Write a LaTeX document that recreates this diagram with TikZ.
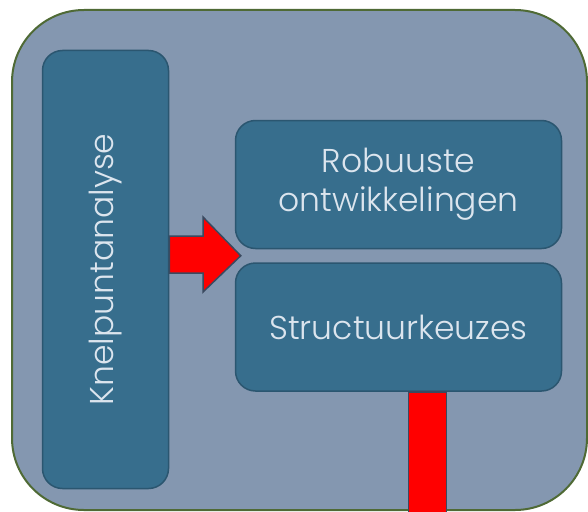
\documentclass[tikz,border=0pt]{standalone}
\usepackage{fontspec}
\setmainfont{Poppins}[UprightFont={* Light}]
\usetikzlibrary{positioning,calc}

\definecolor{panelfill}{HTML}{8497B0}
\definecolor{panelline}{HTML}{4F6A35}
\definecolor{boxfill}{HTML}{376E8D}
\definecolor{boxline}{HTML}{2B5670}
\definecolor{boxtext}{HTML}{DCE5EE}
\definecolor{pijlline}{HTML}{3A4A60}

\tikzset{
	blok/.style={rectangle, draw=boxline, fill=boxfill, line width=1.5pt, rounded corners=20pt, text=boxtext, align=center, font=\fontsize{33}{39}\selectfont},
	pijl/.style={draw=pijlline, fill=red, line width=1.5pt, line join=miter}
}

\begin{document}
\begin{tikzpicture}[x=1pt, y=-1pt]
	\useasboundingbox (0,0) rectangle (588,511);
	\clip (0,0) rectangle (588,511);
	% achtergrondvlak
	\draw[fill=panelfill, draw=panelline, line width=2pt, rounded corners=72pt] (12,10) rectangle (587,510);

	\node (knelpunt) [blok, rotate=90, minimum width=438pt, minimum height=126pt] at (105.5,269.5) {Knelpuntanalyse};
	\node (robuust) [blok, minimum width=326pt, minimum height=128pt] at (398.5,184.5) {Robuuste\\ontwikkelingen};
	\node (structuur) [blok, minimum width=326pt, minimum height=128pt, below=13pt of robuust] {Structuurkeuzes};

	% pijl tussen de blokken
	\coordinate (punt) at ($(robuust.south west)!0.5!(structuur.north west)+(6,0)$);
	\draw[pijl] (knelpunt.south |- 0,236) -- (203,236) -- (203,217) -- (punt) -- (203,292) -- (203,273) -- (knelpunt.south |- 0,273) -- cycle;

	% balk naar beneden
	\draw[pijl] ([xshift=10pt]structuur.south) rectangle ++(38,130);
\end{tikzpicture}
\end{document}
